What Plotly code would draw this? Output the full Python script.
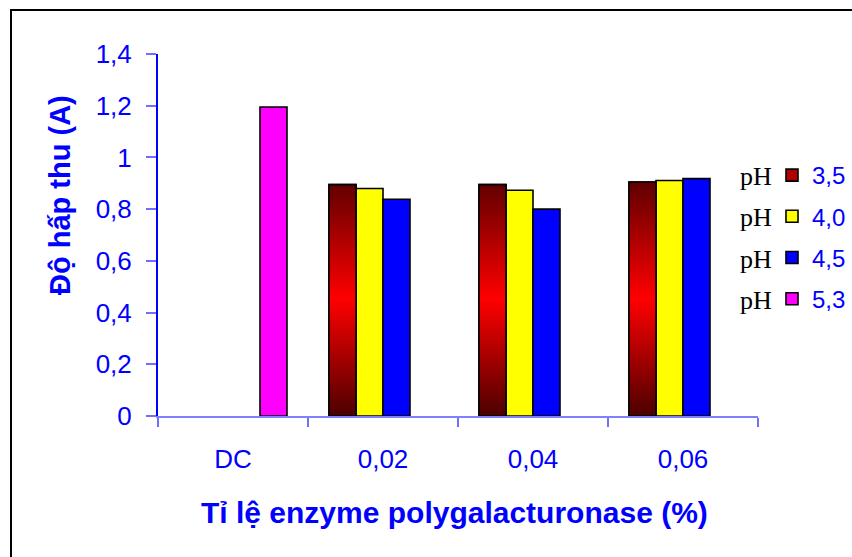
import plotly.graph_objects as go

# Enzyme dose categories and absorbance readings per pH level
categories = ["DC", "0,02", "0,04", "0,06"]
ph_labels = ["3,5", "4,0", "4,5", "5,3"]
ph35 = [None, 0.895, 0.895, 0.905]
ph40 = [None, 0.880, 0.873, 0.911]
ph45 = [None, 0.838, 0.800, 0.918]
ph53 = [1.195, None, None, None]
y_ticks = [0, 0.2, 0.4, 0.6, 0.8, 1.0, 1.2, 1.4]
y_ticktext = ["0", "0,2", "0,4", "0,6", "0,8", "1", "1,2", "1,4"]

series = [ph35, ph40, ph45, ph53]
colors = ["#b00000", "#ffff00", "#0000ff", "#ff00ff"]

W, H = 852, 557
L, R, T, B = 158, 94, 54, 141
PW, PH = W - L - R, H - T - B
BARGAP = 0.28


def px_x(x):
    return (x - L) / PW


def px_y(y):
    return (H - B - y) / PH


fig = go.Figure()
for k, (vals, col, lab) in enumerate(zip(series, colors, ph_labels)):
    fig.add_trace(go.Bar(
        x=categories, y=vals, name=lab,
        marker=dict(color=col, line=dict(color="black", width=1.6)),
        legendgroup=lab,
    ))

# Vertical dark-red → red → dark-red gradient for the pH 3,5 bars,
# placed on the same slot the grouped bar occupies
n = len(series)
slot = (1 - BARGAP) / n
gx, gy = [], []
for i, v in enumerate(ph35):
    if v is None:
        continue
    x0 = i - (1 - BARGAP) / 2
    x1 = x0 + slot
    gx += [x0, x0, x1, x1, x0, None]
    gy += [0, v, v, 0, 0, None]
fig.add_trace(go.Scatter(
    x=gx, y=gy, xaxis="x2", mode="lines", fill="toself",
    line=dict(color="black", width=1.6),
    fillgradient=dict(type="vertical",
                      colorscale=[[0, "#4c0000"], [0.5, "#ff0000"], [1, "#5e0000"]]),
    showlegend=False, hoverinfo="skip",
))

blue = "#0000ff"
fig.update_layout(
    width=W, height=H,
    margin=dict(l=L, r=R, t=T, b=B, autoexpand=False),
    paper_bgcolor="white", plot_bgcolor="white",
    barmode="group", bargap=BARGAP, bargroupgap=0,
    showlegend=True,
    legend=dict(
        x=px_x(772), xanchor="left", y=px_y(153), yanchor="top",
        font=dict(family="Liberation Sans, Arial", size=24, color=blue),
        tracegroupgap=7, bgcolor="rgba(0,0,0,0)",
    ),
    xaxis=dict(
        type="category", range=[-0.5, 3.5], tickson="boundaries",
        showline=True, linecolor="#8080ff", linewidth=2,
        ticks="outside", ticklen=9, tickcolor="#7070ff", tickwidth=2,
        showgrid=False, zeroline=False,
        tickfont=dict(family="Liberation Sans, Arial", size=26, color=blue),
        ticklabelstandoff=19,
    ),
    xaxis2=dict(overlaying="x", range=[-0.5, 3.5], visible=False),
    yaxis=dict(
        range=[0, 1.4], tickvals=y_ticks, ticktext=y_ticktext,
        showline=True, linecolor=blue, linewidth=2,
        ticks="outside", ticklen=10, tickcolor="#7070ff", tickwidth=2,
        showgrid=False, zeroline=False,
        tickfont=dict(family="Liberation Sans, Arial", size=26, color=blue),
        ticklabelstandoff=9,
    ),
    shapes=[dict(
        type="rect", xref="paper", yref="paper",
        x0=px_x(11), x1=px_x(W + 20), y0=px_y(H + 20), y1=px_y(10),
        line=dict(color="black", width=2), fillcolor="rgba(0,0,0,0)", layer="below",
    )],
)

annotations = [
    dict(text="<b>Độ hấp thu (A)</b>", x=px_x(60), y=px_y(195), textangle=-90,
         font=dict(family="Liberation Sans, Arial", size=29, color=blue)),
    dict(text="<b>Tỉ lệ enzyme polygalacturonase (%)</b>", x=px_x(454), y=px_y(512),
         font=dict(family="Liberation Sans, Arial", size=30, color=blue)),
]
for j, yc in enumerate([176, 217, 259, 300]):
    annotations.append(dict(
        text="pH", x=px_x(756), y=px_y(yc),
        font=dict(family="Liberation Serif, Times New Roman", size=26, color="black"),
    ))
for a in annotations:
    a.update(xref="paper", yref="paper", showarrow=False,
             xanchor="center", yanchor="middle")
fig.update_layout(annotations=annotations)

fig.write_html("out.html")
